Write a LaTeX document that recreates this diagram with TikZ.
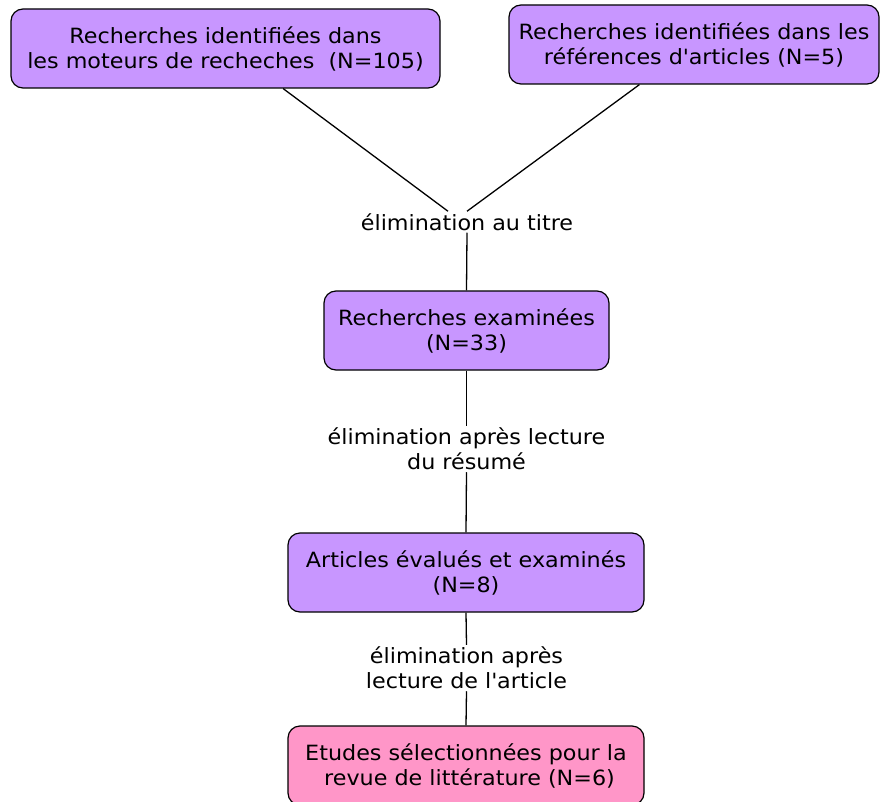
\documentclass[tikz,border=0pt]{standalone}
\usepackage{fontspec}
\setmainfont{DejaVu Sans}[FakeStretch=1.06]
\usetikzlibrary{calc}
\definecolor{boxviolet}{RGB}{200,150,255}
\definecolor{boxrose}{RGB}{255,150,200}
\tikzset{
	etape/.style={draw=black, line width=1.2pt, rounded corners=12pt, fill=boxviolet, align=center, minimum height=79pt, inner sep=0pt},
	tri/.style={align=center, inner sep=2pt},
	lien/.style={line width=1.3pt}
}
\begin{document}
\begin{tikzpicture}[x=1pt, y=1pt, font=\fontsize{21}{25}\selectfont, line join=round]
	\useasboundingbox (0,0) rectangle (880,-802);
	\fill[white] (0,0) rectangle (880,-802);
	% boites
	\node[etape, minimum width=429pt] (moteurs) at (225.5,-48.5) {Recherches identifiées dans\\les moteurs de recheches~~(N=105)};
	\node[etape, minimum width=370pt] (refs) at (694,-44.5) {Recherches identifiées dans les\\références d\textquotesingle articles (N=5)};
	\node[etape, minimum width=285pt] (examinees) at (466.5,-330.5) {Recherches examinées\\(N=33)};
	\node[etape, minimum width=356pt] (evalues) at (466,-572.5) {Articles évalués et examinés~\\(N=8)};
	\node[etape, minimum width=356pt, fill=boxrose] (selection) at (466,-765.5) {Etudes sélectionnées pour la\\~revue de littérature (N=6)};
	% eliminations
	\node[tri] (titre) at (467,-222) {élimination au titre};
	\node[tri] (resume) at (466.5,-449) {élimination après lecture\\du résumé};
	\node[tri] (article) at (466.5,-668) {élimination après\\lecture de l\textquotesingle article};
	% liens
	\draw[lien] ($(moteurs.south west)!0.634!(moteurs.south east)$) -- ([xshift=-19pt]titre.north);
	\draw[lien] ($(refs.south west)!0.353!(refs.south east)$) -- (titre.north);
	\draw[lien] (titre.south) -- (examinees.north);
	\draw[lien] (examinees.south) -- (resume.north);
	\draw[lien] (resume.south) -- (evalues.north);
	\draw[lien] (evalues.south) -- (article.north);
	\draw[lien] (article.south) -- (selection.north);
\end{tikzpicture}
\end{document}
